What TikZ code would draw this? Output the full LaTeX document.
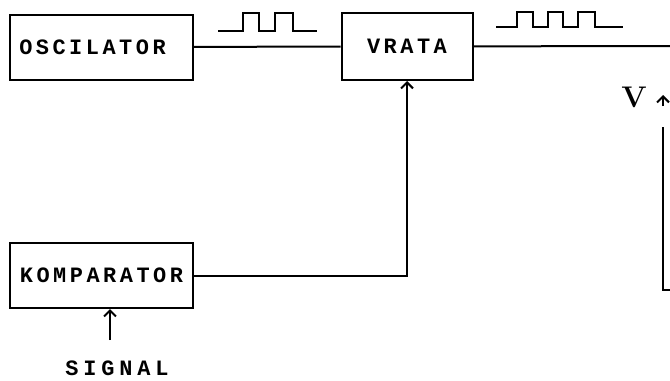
\documentclass[tikz,border=0pt]{standalone}
\usepackage{fontspec}
\setmonofont{Liberation Mono}
\usepackage{tikz}
\usetikzlibrary{positioning, calc, arrows.meta}
\definecolor{ink}{RGB}{0,0,0}
\tikzset{
  blok/.style={draw=ink,line width=2bp,minimum height=65bp,inner sep=0pt,
    font=\fontsize{22}{22}\selectfont\ttfamily\bfseries\addfontfeature{LetterSpace=16},
    align=center},
  vod/.style={line width=2bp},
  arr/.style={-{Straight Barb[length=6bp,width=12bp,line width=2bp]},line width=2bp},
  puls/.style={line width=2bp},
  lbl/.style={font=\fontsize{22}{22}\selectfont\ttfamily\bfseries\addfontfeature{LetterSpace=22}},
}
\begin{document}
\begin{tikzpicture}[x=1bp,y=-1bp]
  \useasboundingbox (0,0) rectangle (670,380);
  \node[blok,minimum width=183bp] (osc) at (101.5,47) {OSCILATOR\hspace*{18bp}};
  \node[blok,minimum width=131bp,minimum height=67bp] (vrata) at (407,46.5) {VRATA};
  \node[blok,minimum width=183bp] (komp) at (101.5,275.5) {KOMPARATOR};
  \node[lbl] (sig) at (117,368) {SIGNAL};
  \node[font=\fontsize{30}{30}\selectfont\bfseries] (v) at (634,97) {V};
  \coordinate (izlaz) at (670,46);
  \coordinate (sigin) at (110,340);
  % veze
  \draw[vod] (osc) -- (vrata);
  \draw[vod] (vrata) -- (izlaz);
  \draw[arr] (komp.east) -| (vrata.south);
  \draw[arr] (sigin) -- (sigin |- komp.south);
  % impulsi
  \draw[puls] (218,31) -- (243,31) -- (243,13) -- (259,13) -- (259,31)
    -- (275,31) -- (275,13) -- (293,13) -- (293,31) -- (317,31);
  \draw[puls] (496,27) -- (517,27) -- (517,12) -- (533,12) -- (533,27)
    -- (548,27) -- (548,12) -- (563,12) -- (563,27) -- (578,27) -- (578,12)
    -- (595,12) -- (595,27) -- (623,27);
  % os
  \coordinate (osdno) at (670,290);
  \coordinate (osvrh) at (663,127);
  \draw[vod] (osdno) -| (osvrh);
  \draw[arr] (663,106) -- (663,95);
\end{tikzpicture}
\end{document}
